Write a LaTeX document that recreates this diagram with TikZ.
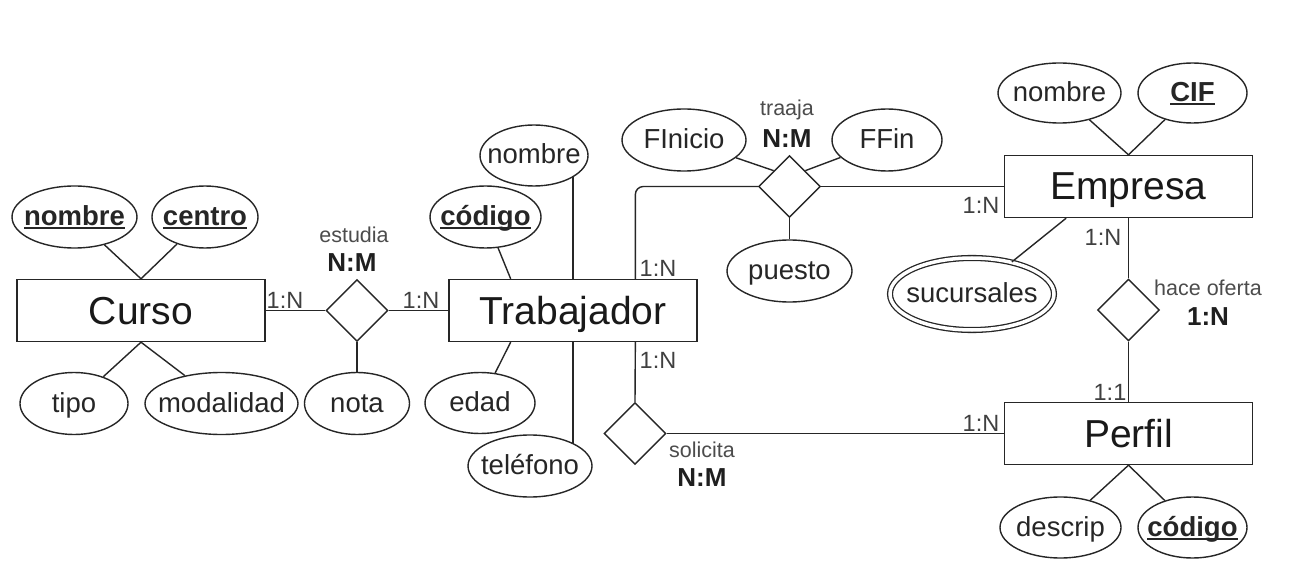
\documentclass[tikz,border=0pt]{standalone}
\usepackage{fontspec}
\setmainfont{Liberation Sans}
\usetikzlibrary{shapes.geometric,calc}
\newcommand\myul[1]{\setbox0\hbox{#1}\rlap{\rule[-3.5pt]{\wd0}{1.6pt}}\box0}
\newcommand\attxt[1]{\makebox[0pt]{#1}}
\tikzset{
 ent/.style={draw, rectangle, minimum width=248pt, minimum height=62pt, inner sep=0pt, text height=34pt, text depth=7pt, text=black!90, font=\fontsize{39}{42}\selectfont},
 att/.style={draw, ellipse, inner sep=0pt, text height=24pt, text depth=7pt, text=black!85, font=\fontsize{27.5}{30}\selectfont},
 rel/.style={draw, diamond, minimum width=62pt, minimum height=62pt, inner sep=0pt},
 card/.style={font=\fontsize{23.5}{26}\selectfont, inner sep=0pt, text=black!75},
 rlab/.style={font=\fontsize{21.5}{24}\selectfont, inner sep=0pt, text=black!70},
 rcard/.style={font=\bfseries\fontsize{26}{29}\selectfont, inner sep=0pt, text=black!88},
}
\begin{document}
\begin{tikzpicture}[x=1pt,y=-1pt,line width=1.4pt, draw=black!85]
\useasboundingbox[fill=white] (0,0) rectangle (1293,569);
% Curso
\node[ent] (curso) at (141,310.5) {Curso};
\node[att, minimum width=125pt, minimum height=62pt] (cnom) at (74.5,217) {\attxt{\myul{\bfseries nombre}}};
\node[att, minimum width=106pt, minimum height=62pt] (ccen) at (205,217) {\attxt{\myul{\bfseries centro}}};
\node[att, minimum width=108pt, minimum height=62pt] (ctip) at (74,403.5) {\attxt{tipo}};
\node[att, minimum width=153pt, minimum height=62pt] (cmod) at (221.5,403.5) {\attxt{modalidad}};
\node[rel] (estudia) at (357,310.5) {};
\node[att, minimum width=105pt, minimum height=62pt] (nota) at (357,403.5) {\attxt{nota}};
% Trabajador
\node[ent] (trab) at (573,310.5) {Trabajador};
\node[att, minimum width=108pt, minimum height=61pt] (tnom) at (534,155.5) {\attxt{nombre}};
\node[att, minimum width=111pt, minimum height=62pt] (tcod) at (485.5,217) {\attxt{\myul{\bfseries código}}};
\node[att, minimum width=110pt, minimum height=61pt] (tedad) at (480,403) {\attxt{edad}};
\node[att, minimum width=124pt, minimum height=62pt] (ttel) at (530,466) {\attxt{teléfono}};
\node[rel] (solicita) at (635,433.5) {};
% traaja
\node[rel] (traaja) at (789.5,186.5) {};
\node[att, minimum width=124pt, minimum height=62pt] (finicio) at (684,140) {\attxt{FInicio}};
\node[att, minimum width=110pt, minimum height=62pt] (ffin) at (887,140) {\attxt{FFin}};
\node[att, minimum width=125pt, minimum height=62pt] (puesto) at (789.5,271) {\attxt{puesto}};
% Empresa
\node[ent] (empresa) at (1128.5,186.5) {Empresa};
\node[att, minimum width=123pt, minimum height=60pt] (enom) at (1059.5,93) {\attxt{nombre}};
\node[att, minimum width=109pt, minimum height=60pt] (ecif) at (1192.5,93) {\attxt{\myul{\bfseries CIF}}};
\node[att, double, double distance=3.5pt, line width=1.3pt, minimum width=164pt, minimum height=72pt] (sucursales) at (972,294) {\attxt{sucursales}};
\node[rel] (oferta) at (1128.5,310) {};
% Perfil
\node[ent] (perfil) at (1128.5,433.5) {Perfil};
\node[att, minimum width=121pt, minimum height=61pt] (pdes) at (1060.5,527.5) {\attxt{descrip}};
\node[att, minimum width=109pt, minimum height=61pt] (pcod) at (1192.5,527.5) {\attxt{\myul{\bfseries código}}};
% helper coordinates
\coordinate (tnq1) at ($(trab.north west)!0.25!(trab.north east)$);
\coordinate (tnq3) at ($(trab.north west)!0.75!(trab.north east)$);
\coordinate (tsq1) at ($(trab.south west)!0.25!(trab.south east)$);
\coordinate (tsq3) at ($(trab.south west)!0.75!(trab.south east)$);
\coordinate (esq1) at ($(empresa.south west)!0.25!(empresa.south east)$);
% connectors Curso
\draw (curso.east) -- (estudia.west);
\draw (estudia.east) -- (trab.west);
\draw (estudia.south) -- (nota.north);
\draw (cnom) -- (curso.north);
\draw (ccen) -- (curso.north);
\draw (ctip) -- (curso.south);
\draw (cmod) -- (curso.south);
% Trabajador
\draw (trab.north) -- (trab.north |- tnom.-28);
\draw (trab.south) -- (trab.south |- ttel.27);
\draw (tcod) -- (tnq1);
\draw (tedad) -- (tsq1);
\draw[rounded corners=8pt] (tnq3) |- (traaja.west);
\draw (tsq3) -- (solicita.north);
\draw (solicita.east) -- (perfil.west);
% traaja
\draw (traaja.east) -- (empresa.west);
\draw (finicio) -- (traaja.north west);
\draw (ffin) -- (traaja.north east);
\draw (traaja.south) -- (puesto.north);
% Empresa
\draw (enom) -- (empresa.north);
\draw (ecif) -- (empresa.north);
\draw (sucursales) -- (esq1);
\draw (empresa.south) -- (oferta.north);
\draw (oferta.south) -- (perfil.north);
% Perfil
\draw (pdes) -- (perfil.south);
\draw (pcod) -- (perfil.south);
% labels
\node[card] (l1) at (285,300) {1:N};
\node[card] (l2) at (421,300) {1:N};
\node[card] (l3) at (658,268) {1:N};
\node[card] (l4) at (658,360) {1:N};
\node[card] (l5) at (981,205) {1:N};
\node[card] (l6) at (1103,237) {1:N};
\node[card] (l7) at (1110,392) {1:1};
\node[card] (l8) at (981,423) {1:N};
\node[rlab] (estl) at (354,235) {estudia};
\node[rcard] (estc) at (352,263) {N:M};
\node[rlab] (tral) at (787,110) {traaja};
\node[rcard] (trac) at (787,139) {N:M};
\node[rlab] (soll) at (702,450) {solicita};
\node[rcard] (solc) at (702,478) {N:M};
\node[rlab] (ofel) at (1208,288) {hace oferta};
\node[rcard] (ofec) at (1208,317) {1:N};
\end{tikzpicture}
\end{document}
